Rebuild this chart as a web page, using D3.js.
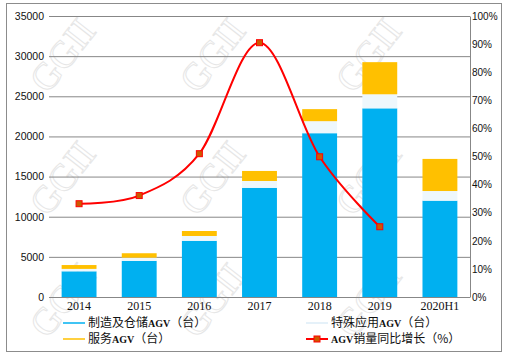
<!DOCTYPE html>
<html><head><meta charset="utf-8">
<script src="https://cdn.jsdelivr.net/npm/d3@7"></script>
<style>body{margin:0;background:#fff}svg{display:block}</style>
</head><body>
<svg id="c" width="507" height="357"></svg>
<script>
const categories = ["2014","2015","2016","2017","2018","2019","2020H1"];
const manufacturing = [3200, 4500, 7000, 13600, 20400, 23500, 12000];
const special = [300, 400, 600, 850, 1500, 1750, 1200];
const service = [480, 550, 620, 1250, 1500, 4000, 4000];
const growth = [33.2, 36.1, 51.0, 90.5, 49.9, 25.0]; // %, 2014-2019
const leftTicks = [0,5000,10000,15000,20000,25000,30000,35000];
const rightTicks = [0,10,20,30,40,50,60,70,80,90,100];
const seriesNames = ["制造及仓储AGV（台）","特殊应用AGV（台）","服务AGV（台）","AGV销量同比增长（%）"];
const colors = ["#00b0f0","#eef7fc","#ffc000","#ff0000"];

const svg = d3.select("#c");
const L=49, R=470, T=16, B=297;
const x = d3.scaleBand().domain(categories).range([L,R]).paddingInner(0.42).paddingOuter(0.21);
const y = d3.scaleLinear().domain([0,35000]).range([B,T]);
const y2 = d3.scaleLinear().domain([0,100]).range([B,T]);

// watermark
const wmX=[62,212,368], wmY=[55,178,300];
const wm = svg.append("g");
wmY.forEach(cy=>wmX.forEach(cx=>{
  wm.append("text").attr("transform",`translate(${cx},${cy}) rotate(-52)`)
    .attr("text-anchor","middle").attr("dy","0.35em")
    .attr("font-family","Liberation Serif").attr("font-size",38)
    .attr("fill","none").attr("stroke","#e6e6e6").attr("stroke-width",1)
    .text("GGII");
}));

// border
svg.append("rect").attr("x",6.5).attr("y",3.5).attr("width",495).attr("height",348)
  .attr("fill","none").attr("stroke","#8c8c8c");

// gridlines via left axis
const gy = svg.append("g").attr("transform",`translate(${L},0)`)
  .call(d3.axisLeft(y).tickValues(leftTicks).tickSize(-(R-L)).tickPadding(5).tickFormat(d3.format("d")));
gy.select(".domain").remove();
gy.selectAll("line").attr("stroke","#878787");
gy.selectAll("text").attr("font-family","Liberation Sans").attr("font-size",10.5).attr("fill","#111");

// stacked bars
const stackData = categories.map((c,i)=>({cat:c, m:manufacturing[i], s:special[i], v:service[i]}));
const stack = d3.stack().keys(["m","s","v"])(stackData);
stack.forEach((layer,k)=>{
  svg.append("g").selectAll("rect").data(layer).join("rect")
    .attr("x",d=>x(d.data.cat)).attr("width",x.bandwidth())
    .attr("y",d=>y(d[1])).attr("height",d=>y(d[0])-y(d[1]))
    .attr("fill",colors[k]);
});

// baseline
svg.append("line").attr("x1",L).attr("x2",R).attr("y1",B+0.5).attr("y2",B+0.5).attr("stroke","#878787");

// right axis
const ga = svg.append("g").attr("transform",`translate(${R},0)`)
  .call(d3.axisRight(y2).tickValues(rightTicks).tickSize(0).tickPadding(2).tickFormat(d=>d+"%"));
ga.select(".domain").attr("stroke","#878787");
ga.selectAll("text").attr("font-family","Liberation Sans").attr("font-size",10).attr("fill","#111");

// x axis labels
const gx = svg.append("g").attr("transform",`translate(0,${B})`)
  .call(d3.axisBottom(x).tickSize(0).tickPadding(4));
gx.select(".domain").remove();
gx.selectAll("text").attr("font-family","Liberation Serif").attr("font-size",12).attr("fill","#111");

// line
const pts = growth.map((g,i)=>[x(categories[i])+x.bandwidth()/2, y2(g)]);
svg.append("path").attr("d",d3.line().curve(d3.curveCatmullRom.alpha(0))(pts))
  .attr("fill","none").attr("stroke","#ff0000").attr("stroke-width",2);
svg.append("g").selectAll("rect").data(pts).join("rect")
  .attr("x",d=>d[0]-3).attr("y",d=>d[1]-3).attr("width",6).attr("height",6)
  .attr("fill","#cc5a00").attr("stroke","#ff0000").attr("stroke-width",1);

// legend
const leg = [
  {x:63, y:323, c:0},{x:306, y:323, c:1},{x:63, y:339, c:2},{x:306, y:339, c:3}
];
leg.forEach(l=>{
  const g = svg.append("g");
  g.append("line").attr("x1",l.x).attr("x2",l.x+22).attr("y1",l.y).attr("y2",l.y)
    .attr("stroke",l.c===1?"#dcedf7":colors[l.c]).attr("stroke-width",l.c===3?2:1.5);
  if(l.c===3) g.append("rect").attr("x",l.x+8).attr("y",l.y-3).attr("width",6).attr("height",6)
    .attr("fill","#cc5a00").attr("stroke","#ff0000");
  const t = g.append("text").attr("x",l.x+25).attr("y",l.y+4)
    .attr("font-family","Noto Sans CJK SC").attr("font-size",12).attr("fill","#111");
  const name = seriesNames[l.c];
  name.split(/(AGV)/).filter(s=>s).forEach(part=>{
    const ts = t.append("tspan").text(part);
    if(part==="AGV") ts.attr("font-family","Liberation Serif").attr("font-weight","bold").attr("font-size",10);
  });
});
</script>
</body></html>
